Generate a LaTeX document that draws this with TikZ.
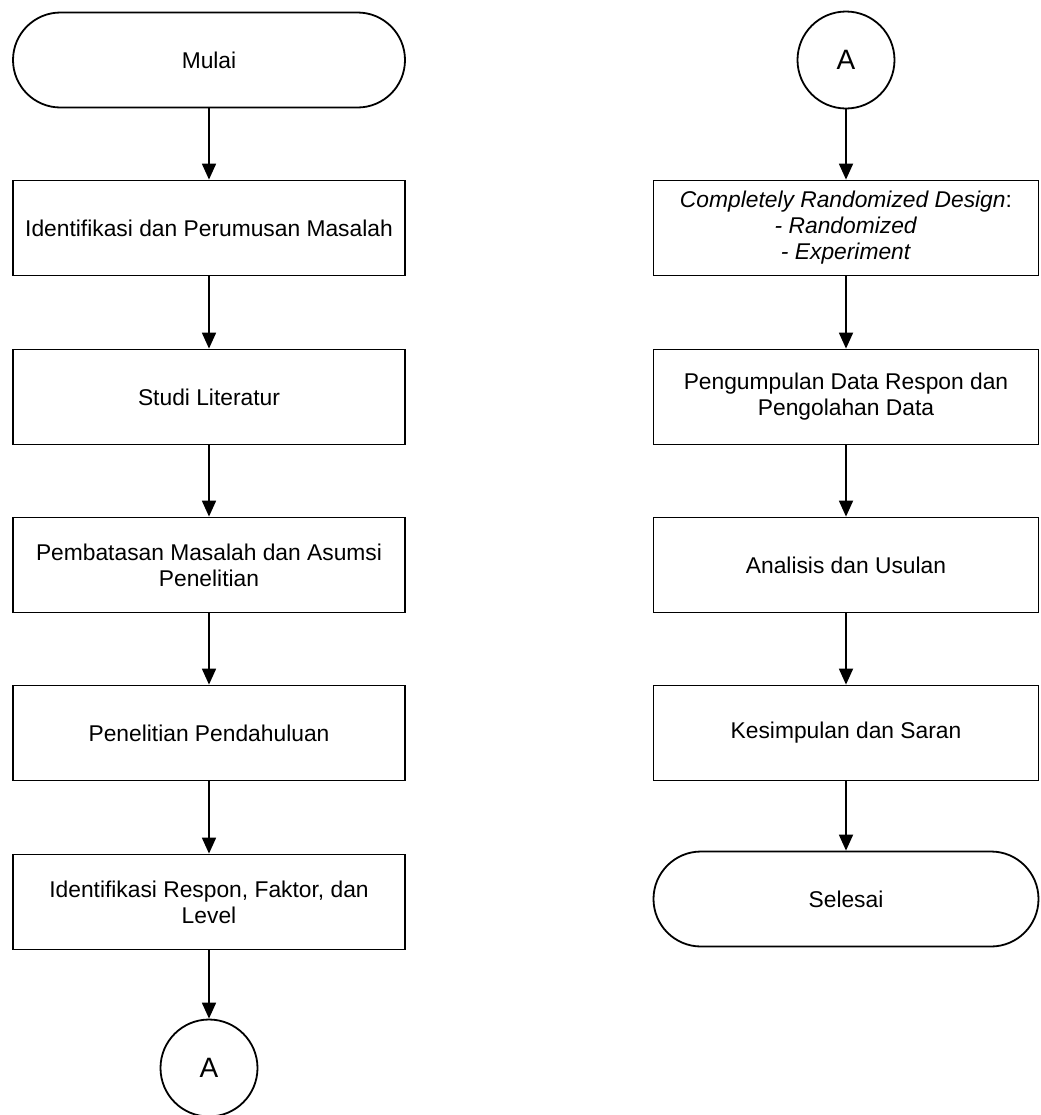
\documentclass[tikz,border=0pt]{standalone}
\usepackage{fontspec}
\setmainfont{Liberation Sans}
\usetikzlibrary{arrows.meta}

\begin{document}
\begin{tikzpicture}[x=0.5pt,y=-0.5pt,
        proses/.style={draw, line width=0.9pt, minimum width=196pt, minimum height=47.5pt,
            align=center, font=\fontsize{11.4}{13}\selectfont},
        terminal/.style={proses, rounded corners=23.75pt},
        sambung/.style={draw, circle, line width=0.9pt, minimum size=48.5pt,
            inner sep=0pt, font=\fontsize{14}{16}\selectfont},
        kanan/.style={minimum width=192.5pt},
        panah/.style={-{Triangle[width=7pt,length=8pt]}, line width=0.9pt}]
        \useasboundingbox (0,0) rectangle (1040,1115);

        \node[terminal] (mulai) at (209,60) {Mulai};
        \node[proses] (identifikasi) at (209,228) {Identifikasi dan Perumusan Masalah};
        \node[proses] (studi) at (209,397) {Studi Literatur};
        \node[proses] (pembatasan) at (209,565) {Pembatasan Masalah dan Asumsi\\Penelitian};
        \node[proses] (pendahuluan) at (209,733) {Penelitian Pendahuluan};
        \node[proses] (respon) at (209,902) {Identifikasi Respon, Faktor, dan\\Level};
        \node[sambung] (akiri) at (209,1068) {A};

        \node[sambung] (akanan) at (846,60) {A};
        \node[proses, kanan] (crd) at (846,228) {\textit{Completely Randomized Design}:\\\textit{- Randomized}\\\textit{- Experiment}};
        \node[proses, kanan] (pengumpulan) at (846,397) {Pengumpulan Data Respon dan\\Pengolahan Data};
        \node[proses, kanan] (analisis) at (846,565) {Analisis dan Usulan};
        \node[proses, kanan] (kesimpulan) at (846,733) {Kesimpulan dan Saran};
        \node[terminal, kanan] (selesai) at (846,899) {Selesai};

        \draw[panah] (mulai) -- (identifikasi);
        \draw[panah] (identifikasi) -- (studi);
        \draw[panah] (studi) -- (pembatasan);
        \draw[panah] (pembatasan) -- (pendahuluan);
        \draw[panah] (pendahuluan) -- (respon);
        \draw[panah] (respon) -- (akiri);

        \draw[panah] (akanan) -- (crd);
        \draw[panah] (crd) -- (pengumpulan);
        \draw[panah] (pengumpulan) -- (analisis);
        \draw[panah] (analisis) -- (kesimpulan);
        \draw[panah] (kesimpulan) -- (selesai);
\end{tikzpicture}
\end{document}
